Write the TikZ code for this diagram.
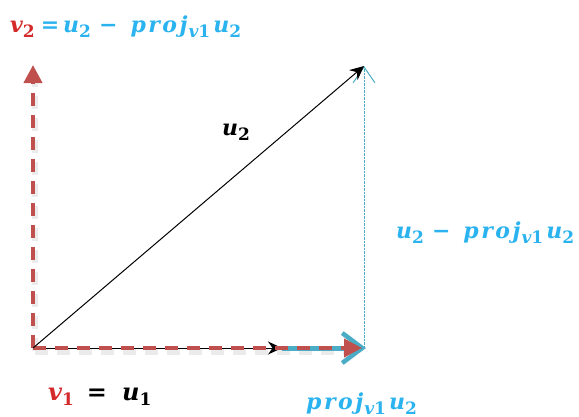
\documentclass[tikz,border=0pt]{standalone}
\usepackage{fontspec}
\usetikzlibrary{arrows.meta}
\newfontfamily\lf{DejaVu Serif}
\definecolor{vred}{HTML}{C0504D}
\definecolor{vblue}{HTML}{4BACC6}
\definecolor{tblue}{HTML}{2AB3EE}
\definecolor{tred}{HTML}{D42A2A}
\tikzset{
  redvec/.style={vred, line width=4pt, dash pattern=on 13pt off 9pt, -{Triangle[length=18pt,width=18pt]}},
  bluevec/.style={vblue, line width=5pt, -{Straight Barb[length=20pt,width=30pt,line width=4.5pt]}},
  blackvec/.style={black, line width=1pt, -{Stealth[length=14pt,width=13pt]}},
  dotvec/.style={vblue, line width=0.9pt, dash pattern=on 2.2pt off 1.3pt, -{Straight Barb[length=16pt,width=22pt,line width=1pt]}},
  shadow/.style={black!8, line width=6pt, dash pattern=on 13pt off 9pt},
  lbl/.style={inner sep=0pt, font=\lf\bfseries\itshape\fontsize{22}{25}\selectfont},
  lblbig/.style={inner sep=0pt, font=\lf\bfseries\itshape\fontsize{24}{27}\selectfont}
}
\newcommand{\sbs}[1]{\raisebox{-5pt}{\fontsize{17}{18}\selectfont #1}}
\newcommand{\up}[1]{{\upshape #1}}
\newcommand{\pj}{p\kern2.5pt r\kern2.5pt o\kern2.5pt j\kern1pt\sbs{v\up{1}}}
\begin{document}
\begin{tikzpicture}[x=1pt,y=-1pt]
\useasboundingbox (0,0) rectangle (579,416);
\coordinate (O) at (33,348);
\coordinate (T) at (364,66);
\coordinate (B) at (364,348);
\coordinate (V2) at (33,65);
\coordinate (H) at (282,348);
\coordinate (P) at (362,348);
\coordinate (Pb) at (366,348);
% shadows
\draw[shadow] (35,351) -- (35,84);
\draw[shadow] (35,352) -- (345,352);
% blue projection arrow
\draw[bluevec] (H) -- (Pb);
% black u1 arrow
\draw[blackvec] (O) -- (H);
% red v1
\draw[redvec] (O) -- (P);
% red v2
\draw[redvec] (O) -- (V2);
% dotted u2 - proj
\draw[dotvec] (B) -- (T);
% black u2
\draw[blackvec] (O) -- (T);
% labels
\node[lbl, anchor=base west] (l1) at (10,32) {\color{tred}v\sbs{\up{2}}\color{tblue}\kern6pt\up{=}\kern4pt u\sbs{\up{2}}\kern8pt\up{−}\kern13pt\pj\kern3pt u\sbs{\up{2}}};
\node[lbl, anchor=base west] (l2) at (222,135) {u\sbs{\up{2}}};
\node[lbl, anchor=base west] (l3) at (396,238) {\color{tblue}u\sbs{\up{2}}\kern8pt\up{−}\kern13pt\pj\kern3pt u\sbs{\up{2}}};
\node[lblbig, anchor=base west] (l4) at (48,400) {\color{tred}v\sbs{\up{1}}\kern13pt\color{black}\up{=}\kern15pt u\sbs{\up{1}}};
\node[lbl, anchor=base west] (l5) at (306,409) {\color{tblue}\pj\kern3pt u\sbs{\up{2}}};
\end{tikzpicture}
\end{document}
